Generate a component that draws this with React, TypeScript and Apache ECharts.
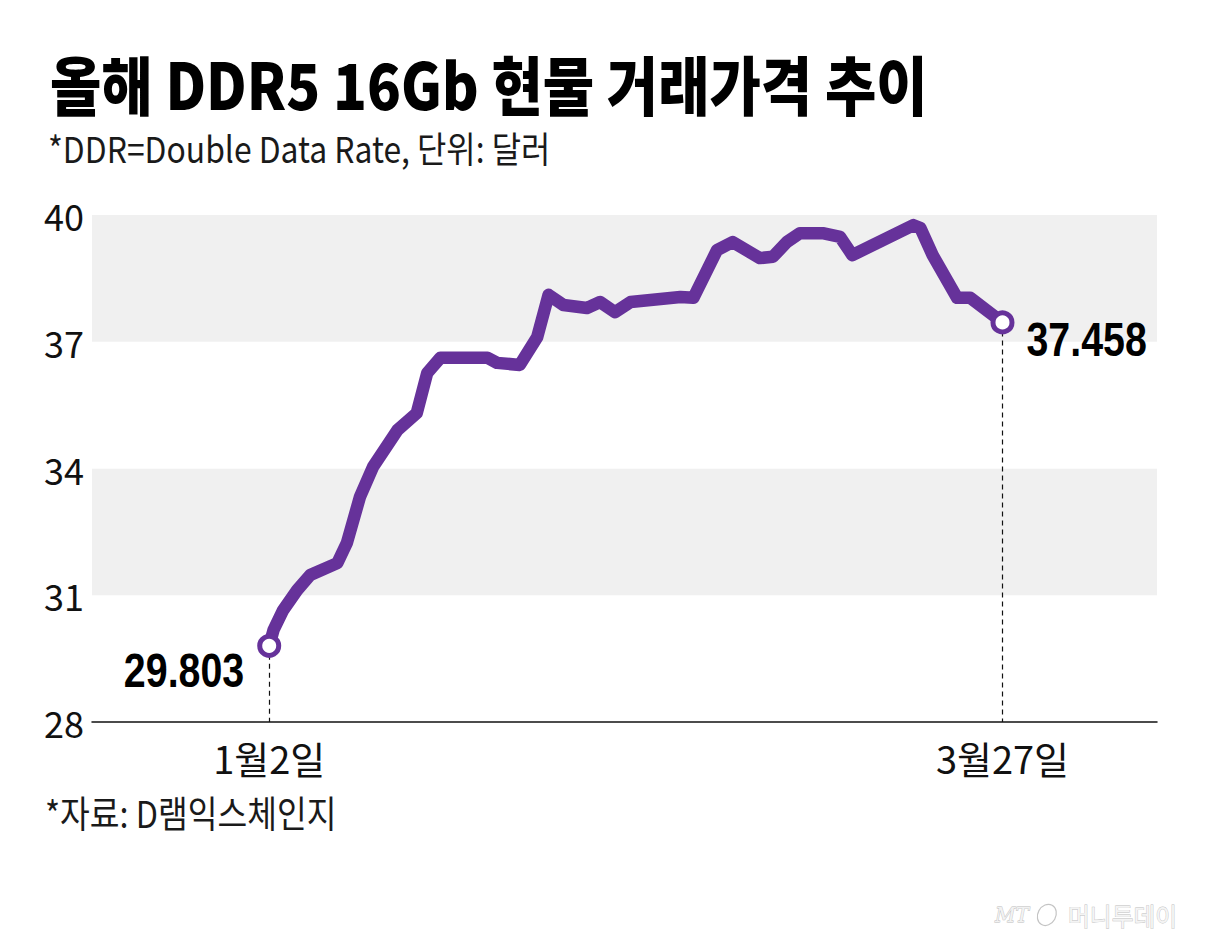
import React, { useEffect, useRef } from 'react';
import * as echarts from 'echarts';

// ---- data ----
const TITLE = '올해 DDR5 16Gb 현물 거래가격 추이';
const SUBTITLE = '*DDR=Double Data Rate, 단위: 달러';
const SOURCE = '*자료: D램익스체인지';
const WATERMARK_MT = 'MT';
const WATERMARK_NAME = '머니투데이';

// days after Jan 2
const dayOffsets = [
  0, 0.5, 1.6, 3.2, 4.7, 7.8, 8.9, 10.4, 11.9, 14.7, 16.9, 18.1, 19.6, 25.0, 26.1, 28.7,
  30.7, 32.0, 33.7, 36.4, 37.9, 39.6, 41.4, 47.1, 48.6, 51.3, 53.1, 56.2, 57.7, 59.3,
  60.8, 63.4, 65.4, 66.8, 73.8, 74.6, 76.0, 78.8, 80.3, 84,
];
const prices = [
  29.803, 30.18, 30.65, 31.12, 31.48, 31.76, 32.24, 33.33, 34.04, 34.91, 35.31, 36.26, 36.62,
  36.62, 36.5, 36.45, 37.11, 38.11, 37.87, 37.8, 37.94, 37.7, 37.94, 38.06, 38.04, 39.17,
  39.36, 38.98, 39.01, 39.36, 39.57, 39.57, 39.48, 39.05, 39.76, 39.69, 39.05, 38.04, 38.04,
  37.458,
];
const endpointDays = [0, 84];
const endpointDates = ['1월2일', '3월27일'];
const endpointValueLabels = ['29.803', '37.458'];
const yTicks = [28, 31, 34, 37, 40];

const PURPLE = '#66329a';
const CJK = "'Noto Sans CJK KR', sans-serif";
const LATIN = "'Liberation Sans', Arial, sans-serif";

export default function App() {
  const ref = useRef<HTMLDivElement>(null);

  useEffect(() => {
    document.body.style.margin = '0';
    const chart = echarts.init(ref.current!, null, { renderer: 'svg' });

    const lineData = dayOffsets.map((d, i) => [d, prices[i]]);
    const endpointData = endpointDays.map((d) => {
      const idx = dayOffsets.indexOf(d);
      return [d, prices[idx]];
    });

    const option: any = {
      animation: false,
      backgroundColor: '#ffffff',
      grid: { left: 92, right: 49, top: 215, bottom: 221, containLabel: false },
      xAxis: {
        type: 'value',
        min: -20.3,
        max: 101.7,
        axisLine: { show: true, lineStyle: { color: '#111', width: 1.5 } },
        axisTick: { show: false },
        splitLine: { show: false },
        axisLabel: {
          show: true,
          customValues: endpointDays,
          formatter: (v: number) => {
            const i = endpointDays.indexOf(v);
            return i >= 0 ? endpointDates[i] : '';
          },
          fontFamily: CJK,
          fontSize: 38,
          color: '#111',
          margin: 16,
        },
      },
      yAxis: {
        type: 'value',
        min: yTicks[0],
        max: yTicks[yTicks.length - 1],
        interval: 3,
        axisLine: { show: false },
        axisTick: { show: false },
        splitLine: { show: false },
        splitArea: { show: true, areaStyle: { color: ['#ffffff', '#f0f0f0'] } },
        axisLabel: {
          fontFamily: CJK,
          fontSize: 36,
          color: '#111',
          margin: 8,
        },
      },
      series: [
        {
          type: 'line',
          data: lineData,
          symbol: 'none',
          smooth: false,
          z: 3,
          lineStyle: { color: PURPLE, width: 12.5, join: 'round', cap: 'round' },
          markLine: {
            silent: true,
            symbol: 'none',
            label: { show: false },
            lineStyle: { color: '#111', width: 1.2, type: [5, 4] },
            data: endpointData.map((p) => [
              { coord: [p[0], p[1]] },
              { coord: [p[0], yTicks[0]] },
            ]),
          },
        },
        {
          type: 'scatter',
          z: 5,
          data: endpointData,
          symbol: 'circle',
          symbolSize: 19,
          itemStyle: { color: '#ffffff', borderColor: PURPLE, borderWidth: 5, opacity: 1 },
        },
      ],
      graphic: [
        {
          type: 'text',
          x: 50,
          y: 82,
          scaleX: 0.872,
          style: {
            text: TITLE,
            fontFamily: CJK,
            fontWeight: 900,
            fontSize: 64,
            fill: '#000',
            align: 'left',
            verticalAlign: 'middle',
          },
        },
        {
          type: 'text',
          x: 48,
          y: 148,
          scaleX: 0.885,
          style: {
            text: SUBTITLE,
            fontFamily: CJK,
            fontSize: 36,
            fill: '#1a1a1a',
            align: 'left',
            verticalAlign: 'middle',
          },
        },
        {
          type: 'text',
          x: 45,
          y: 812,
          scaleX: 0.874,
          style: {
            text: SOURCE,
            fontFamily: CJK,
            fontSize: 37,
            fill: '#1a1a1a',
            align: 'left',
            verticalAlign: 'middle',
          },
        },
        {
          type: 'text',
          x: 995,
          y: 915,
          style: {
            text: WATERMARK_MT,
            fontFamily: "'DejaVu Serif', serif",
            fontStyle: 'italic',
            fontSize: 20,
            fill: '#f2f2f2',
            stroke: '#bdbdbd',
            lineWidth: 0.8,
            align: 'left',
            verticalAlign: 'middle',
          },
        },
        {
          type: 'ellipse',
          shape: { cx: 1046, cy: 915, rx: 9, ry: 11 },
          rotation: -0.5,
          originX: 1046,
          originY: 915,
          style: { fill: 'none', stroke: '#c4c4c4', lineWidth: 1.2 },
        },
        {
          type: 'text',
          x: 1068,
          y: 915,
          scaleX: 0.95,
          style: {
            text: WATERMARK_NAME,
            fontFamily: CJK,
            fontSize: 25,
            fill: '#f4f4f4',
            stroke: '#bdbdbd',
            lineWidth: 0.8,
            align: 'left',
            verticalAlign: 'middle',
          },
        },
      ],
    };

    chart.setOption(option);

    // value labels at the two end points, placed through the chart's own scales
    const labelElems = endpointData.map((p, i) => {
      const px = chart.convertToPixel({ gridIndex: 0 }, p) as number[];
      const first = i === 0;
      return {
        type: 'text',
        id: 'vlabel' + i,
        x: first ? px[0] - 25 : px[0] + 24,
        y: first ? px[1] + 24 : px[1] + 17,
        scaleX: 0.82,
        z: 10,
        style: {
          text: endpointValueLabels[i],
          fontFamily: LATIN,
          fontWeight: 'bold',
          fontSize: 48,
          fill: '#000',
          align: first ? 'right' : 'left',
          verticalAlign: 'middle',
        },
      };
    });
    chart.setOption({ graphic: labelElems });

    return () => chart.dispose();
  }, []);

  return (
    <div
      ref={ref}
      style={{ position: 'absolute', left: 0, top: 0, width: 1206, height: 943 }}
    />
  );
}
